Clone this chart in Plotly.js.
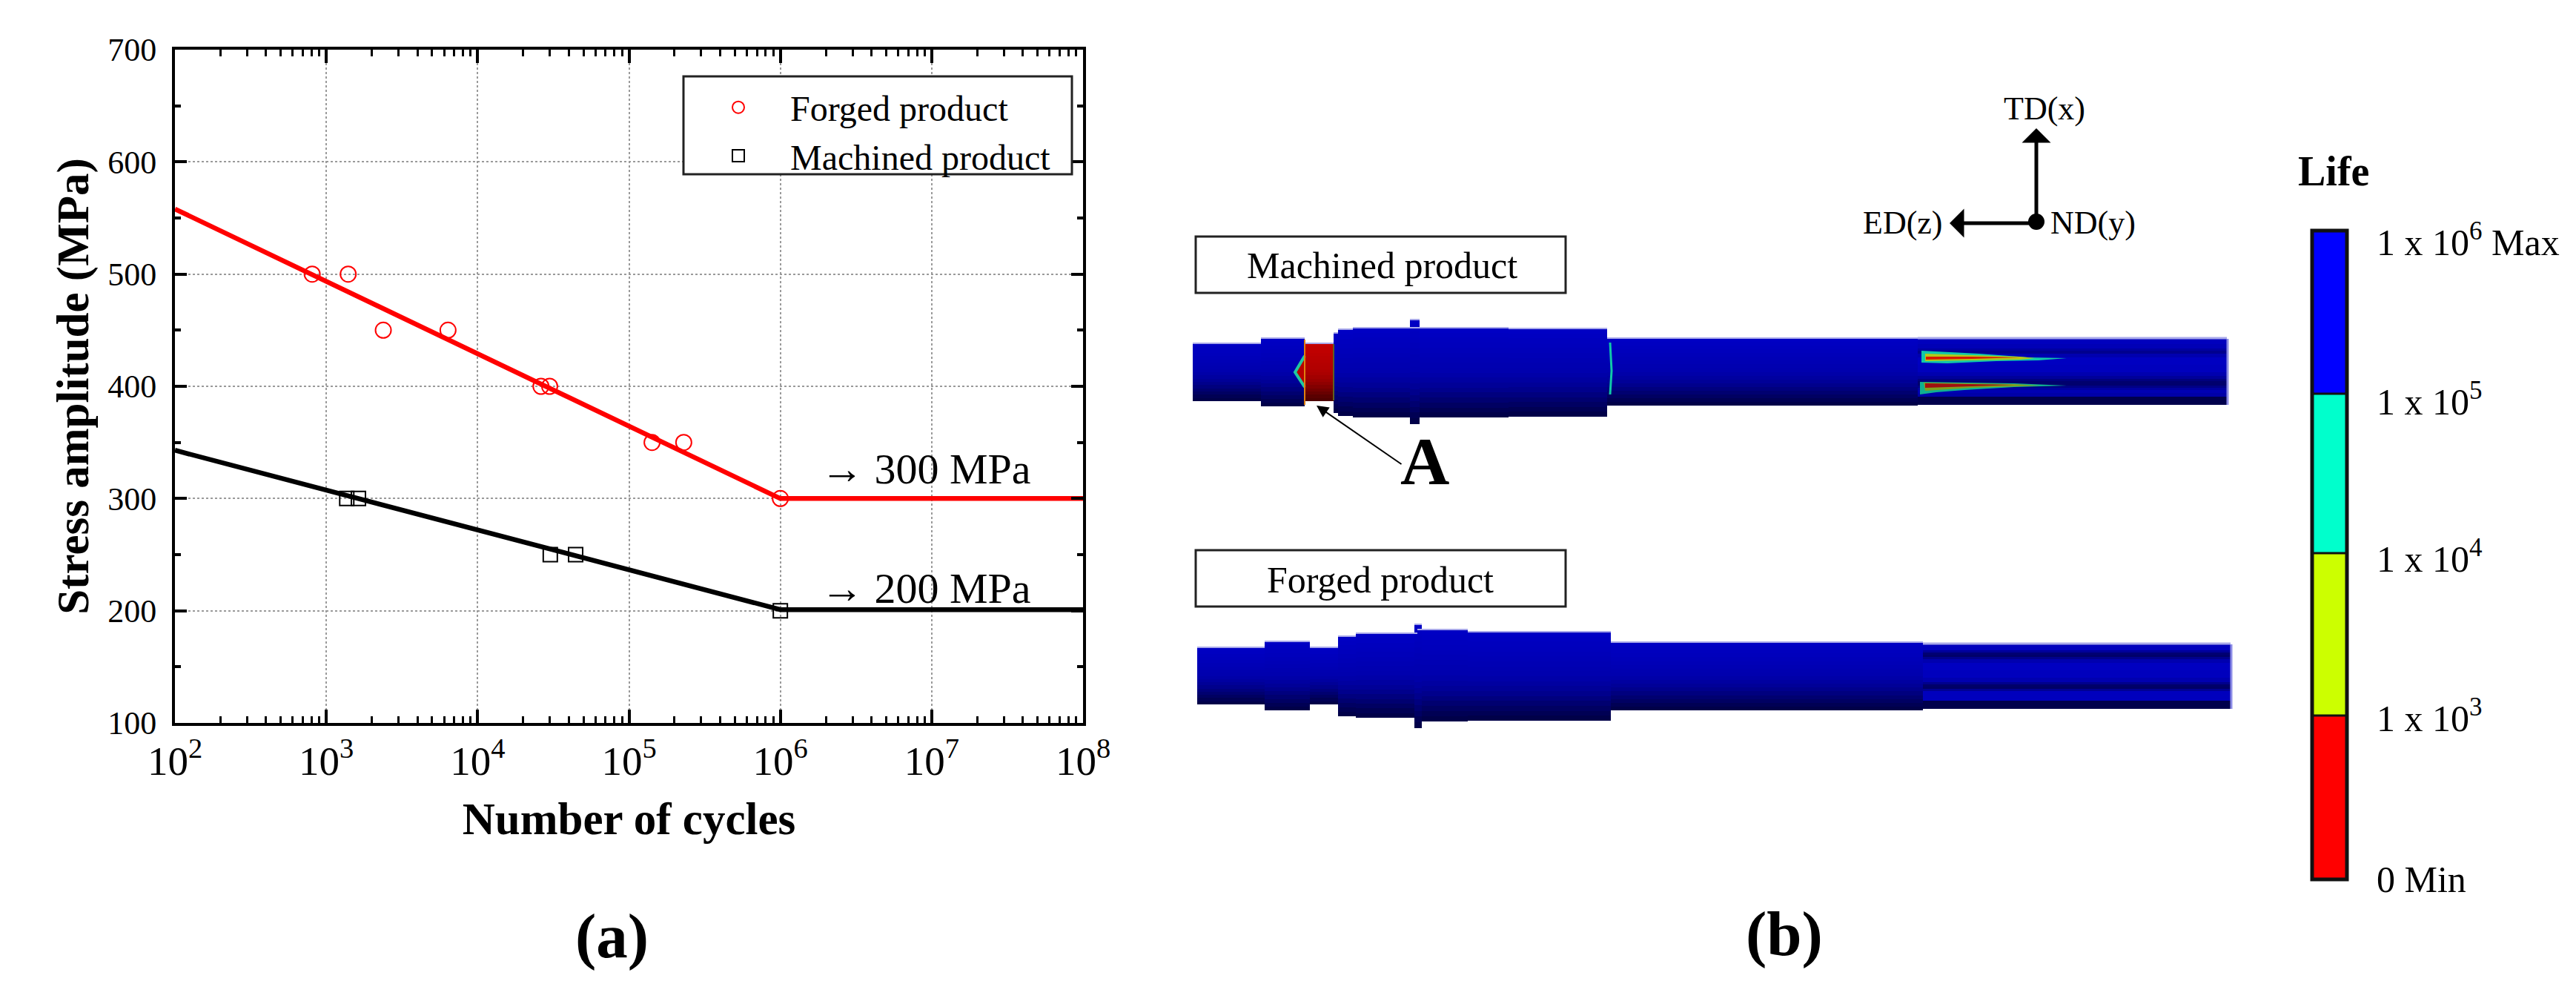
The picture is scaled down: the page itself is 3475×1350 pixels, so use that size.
<!DOCTYPE html>
<html><head><meta charset="utf-8"><script src="https://cdn.plot.ly/plotly-3.0.1.min.js"></script>
<style>html,body{margin:0;padding:0;background:#fff}</style></head>
<body><div id="c" style="width:3475px;height:1350px"></div>
<script>
const forgedCycles=[807,1395,2380,6370,26200,29900,142000,230000,1000000];
const forgedStress=[500,500,450,450,400,400,350,350,300];
const machinedCycles=[1365,1630,30200,44400,1000000];
const machinedStress=[300,300,250,250,200];
const forgedFitX=[100,1000000,100000000];
const forgedFitY=[558,300,300];
const machinedFitX=[100,1000000,100000000];
const machinedFitY=[343,201,201];
const shadeLevels=[1,.98,.96,.94,.92,.9,.88,.86,.84,.8,.74,.68,.6,.5,.4,.3,.2,.12];
const lifeColors=['#ff0000','#ccff00','#00ffcc','#0000ff'];
const lifeEdges=[1186,965,746,531,311];
const lifeLabels=['0 Min','1 x 10<sup>3</sup>','1 x 10<sup>4</sup>','1 x 10<sup>5</sup>','1 x 10<sup>6</sup> Max'];
const lifeLabelY=[1186,965,750,538,323];
// schematic shaft pieces in panel-b units: x0,x1,top,bottom,colour
const machinedPieces=[[1609,1701,463,541,'b'],[1701,1760,456,548,'b'],[1760,1799,463,541,'r'],[1799,1805,449,557,'b'],[1805,1825,444,561,'b'],[1825,2035,442,563,'b'],[2035,2168,443,562,'b'],[1902,1915,431,572,'b'],[2168,2587,456,547,'b']];
const forgedPieces=[[1615,1706,873,950,'b'],[1706,1767,865,958,'b'],[1767,1805,873,950,'b'],[1805,1829,858,966,'b'],[1829,1912,854,968,'b'],[1912,1980,849,973,'b'],[1980,2173,852,972,'b'],[1908,1918,842,982,'b'],[2173,2594,866,958,'b']];
// grooved end sections: band edges and band brightness
const machinedEndX=[2587,3004];
const machinedEndEdges=[457,464,470,473,477,482,492,502,507,511,514,520,523,526,530,535,546];
const machinedEndLevels=[.95,.9,.75,.62,.85,.98,.95,.85,.7,.5,.38,.55,.75,.88,.8,.14];
const forgedEndX=[2594,3009];
const forgedEndEdges=[869,877,880,883,886,889,894,904,914,920,923,926,929,932,945,956];
const forgedEndLevels=[.95,.7,.42,.36,.6,.85,.98,.95,.85,.6,.36,.32,.65,.95,.14];
// fatigue streaks near the grooves
const streak1OuterX=[2592,2670,2737,2788,2750,2693,2627,2592,2592];
const streak1OuterY=[473,477,482,483,486,487,490,489,473];
const streak1MidX=[2597,2660,2725,2745,2725,2660,2597,2597];
const streak1MidY=[477,479,481,483,485,486,487,477];
const streak1CoreX=[2598,2660,2725,2660,2598,2598];
const streak1CoreY=[481,481,482,484,485,481];
const streak2OuterX=[2590,2660,2717,2788,2717,2650,2612,2590,2590];
const streak2OuterY=[515,516,517,520,522,526,529,532,515];
const streak2MidX=[2595,2660,2717,2752,2660,2597,2595];
const streak2MidY=[516,517,518,520,523,527,516];
const streak2CoreX=[2597,2660,2717,2660,2597,2597];
const streak2CoreY=[517,518,519,521,523,517];
const crackX=[1760,1747,1760,1760];
const crackY=[480,502,522,480];
const FONT='Liberation Serif';
const blues=[[0,'#000038'],[1,'#0000c4']];
const reds=[[0,'#400000'],[1,'#c40000']];
function hm(x,ys,lv,k){return {type:'heatmap',xaxis:'x2',yaxis:'y2',x:x,y:ys,z:lv.map(v=>[v]),zmin:0,zmax:1,colorscale:k==='r'?reds:blues,showscale:false,hoverinfo:'skip',showlegend:false};}
function piece(p){
  const [a,b,t,u,k]=p,n=shadeLevels.length,ys=[];
  for(let i=0;i<=n;i++)ys.push(t+(u-t)*i/n);
  return hm([a,b],ys,shadeLevels,k);
}
function poly(x,y,c){return {x:x,y:y,xaxis:'x2',yaxis:'y2',mode:'lines',fill:'toself',fillcolor:c,line:{width:0,color:c},showlegend:false,hoverinfo:'skip'};}
function ln(x,y,c,w){return {x:x,y:y,xaxis:'x2',yaxis:'y2',mode:'lines',line:{width:w,color:c},showlegend:false,hoverinfo:'skip'};}
function topEdge(list){const xs=[],ys=[];list.forEach(p=>{xs.push(p[0],p[1],null);ys.push(p[2],p[2],null)});return ln(xs,ys,'#a8a8ea',2);}
const traces=[
 {x:forgedFitX,y:forgedFitY,mode:'lines',line:{color:'#ff0000',width:6.5},showlegend:false,hoverinfo:'skip'},
 {x:machinedFitX,y:machinedFitY,mode:'lines',line:{color:'#000',width:6.5},showlegend:false,hoverinfo:'skip'},
 {x:forgedCycles,y:forgedStress,mode:'markers',name:'Forged product',marker:{symbol:'circle-open',size:21,color:'#ff0000',line:{width:2,color:'#ff0000'}}},
 {x:machinedCycles,y:machinedStress,mode:'markers',name:'Machined product',marker:{symbol:'square-open',size:19,color:'#000',line:{width:2,color:'#000'}}},
 topEdge(machinedPieces),topEdge(forgedPieces),
 ...machinedPieces.map(piece),...forgedPieces.map(piece),
 hm(machinedEndX,machinedEndEdges,machinedEndLevels,'b'),
 hm(forgedEndX,forgedEndEdges,forgedEndLevels,'b'),
 ln([machinedEndX[0],machinedEndX[1]],[456,456],'#a8a8ea',3),
 ln([forgedEndX[0],forgedEndX[1]],[868,868],'#a8a8ea',3),
 ln([3005,3005],[457,546],'#8c8ce6',3),
 ln([3010,3010],[869,956],'#8c8ce6',3),
 poly(streak1OuterX,streak1OuterY,'#12c8a8'),poly(streak1MidX,streak1MidY,'#b4c818'),poly(streak1CoreX,streak1CoreY,'#d81800'),
 poly(streak2OuterX,streak2OuterY,'#10b090'),poly(streak2MidX,streak2MidY,'#80a020'),poly(streak2CoreX,streak2CoreY,'#a01010'),
 poly(crackX,crackY,'#b80000'),
 ln(crackX.slice(0,3),crackY.slice(0,3),'#20c8a0',4),
 ln([1760,1760],[458,546],'#e08010',2),
 ln([1799,1799],[464,540],'#606020',2),
 ln([2172,2174,2172],[462,500,532],'#10c8a8',3),
 {type:'heatmap',xaxis:'x2',yaxis:'y2',x:[3120,3165],y:lifeEdges,z:[[0],[1],[2],[3]],zmin:0,zmax:3,showscale:false,hoverinfo:'skip',showlegend:false,
  colorscale:[[0,lifeColors[0]],[.25,lifeColors[0]],[.25,lifeColors[1]],[.5,lifeColors[1]],[.5,lifeColors[2]],[.75,lifeColors[2]],[.75,lifeColors[3]],[1,lifeColors[3]]]}
];
const axisLine={showline:true,linecolor:'#000',linewidth:4,mirror:'ticks',ticks:'inside',tickcolor:'#000',tickwidth:4,
 showgrid:true,gridcolor:'#9a9a9a',griddash:'dot',gridwidth:2,zeroline:false,tickfont:{family:FONT,size:44,color:'#000'}};
const H=1350,W=3475;
const annos=[
 {xref:'x',yref:'y',x:6.96,y:326,text:'→ 300 MPa',font:{size:58}},
 {xref:'x',yref:'y',x:6.96,y:220,text:'→ 200 MPa',font:{size:58}},
 {xref:'x2',yref:'y2',x:825,y:1262,text:'<b>(a)</b>',font:{size:85}},
 {xref:'x2',yref:'y2',x:2407,y:1259,text:'<b>(b)</b>',font:{size:85}},
 {xref:'x2',yref:'y2',x:1864,y:358,text:'Machined product',font:{size:50}},
 {xref:'x2',yref:'y2',x:1862,y:782,text:'Forged product',font:{size:50}},
 {xref:'x2',yref:'y2',x:1922,y:622,text:'<b>A</b>',font:{size:92}},
 {xref:'x2',yref:'y2',x:2758,y:146,text:'TD(x)',font:{size:44}},
 {xref:'x2',yref:'y2',x:2567,y:300,text:'ED(z)',font:{size:44}},
 {xref:'x2',yref:'y2',x:2823,y:300,text:'ND(y)',font:{size:44}},
 {xref:'x2',yref:'y2',x:3148,y:231,text:'<b>Life</b>',font:{size:56}},
 ...lifeLabels.map((t,i)=>({xref:'x2',yref:'y2',x:3204,y:lifeLabelY[i],xanchor:'left',text:t,font:{size:50}}))
].map(a=>Object.assign({showarrow:false},a,{font:Object.assign({family:FONT,color:'#000'},a.font)}));
const arrows=[
 {x:1776,y:547,ax:1892,ay:627,w:2,s:1.6,h:2},
 {x:2747,y:173,ax:2747,ay:299,w:5,s:1.3,h:1},
 {x:2630,y:301,ax:2747,ay:301,w:5,s:1.3,h:1}
].map(o=>({xref:'x2',yref:'y2',axref:'x2',ayref:'y2',x:o.x,y:o.y,ax:o.ax,ay:o.ay,text:'',showarrow:true,arrowhead:o.h,arrowsize:o.s,arrowwidth:o.w,arrowcolor:'#000'}));
const box=(a,b,t,u,w,c,f)=>({type:'rect',xref:'x2',yref:'y2',x0:a,x1:b,y0:t,y1:u,line:{color:c||'#222',width:w},fillcolor:f||'rgba(0,0,0,0)'});
const shapes=[box(1613,2112,319,395,3),box(1613,2112,742,818,3),
 box(922,1446,103,235,3,'#222','#fff'),
 box(3119,3166,311,1186,5,'#111'),
 ...lifeEdges.slice(1,4).map(y=>({type:'line',xref:'x2',yref:'y2',x0:3119,x1:3166,y0:y,y1:y,line:{color:'#111',width:3}})),
 {type:'circle',xref:'x2',yref:'y2',x0:2736,x1:2758,y0:288,y1:310,fillcolor:'#000',line:{width:0}}
];
const layout={width:W,height:H,margin:{l:0,r:0,t:0,b:0},paper_bgcolor:'#fff',plot_bgcolor:'rgba(0,0,0,0)',showlegend:true,
 xaxis:Object.assign({},axisLine,{type:'log',domain:[236/W,1461/W],range:[2,8],dtick:1,exponentformat:'power',ticklen:18,ticklabelstandoff:2,
   minor:{dtick:'D1',ticks:'inside',ticklen:9,tickwidth:3,tickcolor:'#000',showgrid:false},
   title:{text:'<b>Number of cycles</b>',standoff:28,font:{family:FONT,size:61,color:'#000'}}}),
 yaxis:Object.assign({},axisLine,{domain:[1-975/H,1-67/H],range:[100,700],dtick:100,ticklen:16,ticklabelstandoff:12,
   minor:{dtick:50,ticks:'inside',ticklen:8,tickwidth:4,tickcolor:'#000',showgrid:false},
   title:{text:'<b>Stress amplitude (MPa)</b>',standoff:7,font:{family:FONT,size:61,color:'#000'}}}),
 xaxis2:{domain:[0,1],range:[0,W],visible:false,anchor:'y2'},
 yaxis2:{domain:[0,1],range:[H,0],visible:false,anchor:'x2'},
 legend:{x:926/W,y:1-107/H,xanchor:'left',yanchor:'top',bgcolor:'rgba(0,0,0,0)',borderwidth:0,itemwidth:130,font:{family:FONT,size:48,color:'#000'},tracegroupgap:0},
 annotations:annos.concat(arrows),shapes};
Plotly.newPlot('c',traces,layout,{staticPlot:true,displayModeBar:false});
</script></body></html>
